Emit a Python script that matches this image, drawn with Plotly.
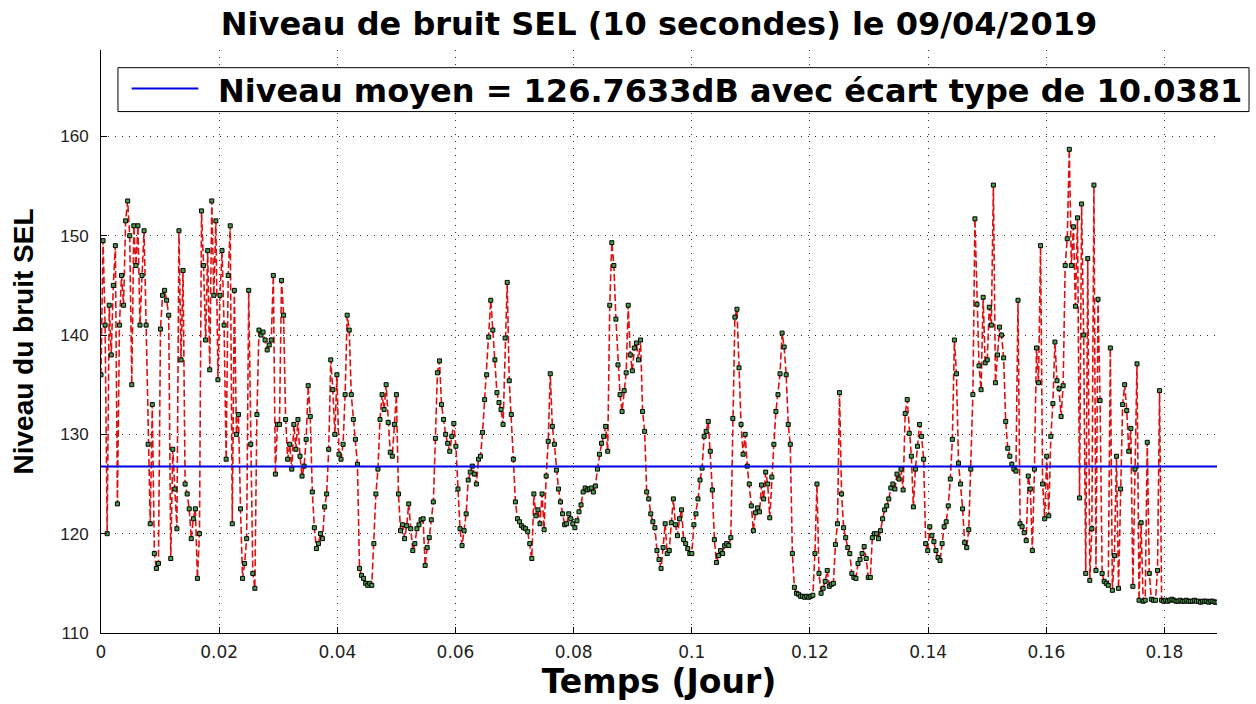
import numpy as np
import plotly.graph_objects as go

# Sound exposure level readings (dB), one every 30 s, grouped by 0.01-day slices
SAMPLE_STEP_S = 30
SECONDS_PER_DAY = 86400

sel_00 = [136, 149.5, 141, 120, 143, 138, 145, 149, 123, 141, 146, 143, 151.5, 153.5, 150,
          135, 151, 147, 151, 141, 146, 150.5, 141, 129, 121, 133, 118, 116.5, 117]
sel_01 = [140.6, 144, 144.5, 143.5, 142, 117.5, 128.5, 124.5, 120.5, 150.5, 137.5, 146.5, 125, 124,
          122.5, 119.5, 121.5, 122.5, 115.5, 120, 152.5, 147, 139.5, 148.5, 136.5, 153.5, 144, 151.5, 135.5]
sel_02 = [144, 148.5, 141, 127.5, 146, 151, 121, 144.5, 130, 132, 122.5, 115.5, 117, 119.5, 144.5,
          129, 116, 114.5, 132, 140.5, 140, 140.3, 139.5, 138.5, 139, 139.5, 146, 126, 131]
sel_03 = [131, 145.5, 142, 131.5, 127.5, 129, 126.5, 131, 128.5, 131.5, 127.8, 125.8, 126.8, 129.5, 134.9,
          131.8, 124.2, 120.6, 118.5, 119, 120, 119.5, 122.7, 124, 128.5, 137.5, 134.5, 130, 136]
sel_04 = [128, 127.5, 129, 134, 142, 140.5, 134, 131.5, 129.5, 127, 116.5, 115.8, 115.5, 115,
          114.8, 115, 114.8, 119, 124, 126.5, 131.5, 134, 132.5, 135, 131.2, 128.2, 127.8, 131]
sel_05 = [134, 124, 120.3, 120.9, 119.5, 120.8, 123, 120.5, 118.3, 119, 120.5, 120.9, 121.4, 121.5, 116.8,
          118.6, 119.6, 121.4, 123.2, 129.6, 136.2, 137.4, 133, 131.5, 130, 129.1, 128.3, 129.8, 131.1]
sel_06 = [128.8, 124.5, 120.5, 118.8, 120.3, 122, 125.4, 126.2, 126.8, 126, 125, 127.5, 127.8, 130.2, 133.5,
          136, 139.8, 143.5, 140.5, 137.5, 134.2, 133.2, 132.5, 131, 139.7, 145.3, 135.4, 132, 127.5]
sel_07 = [123.2, 121.5, 121.2, 120.8, 120.6, 120.5, 120.2, 119, 117.5, 124, 121.8, 122.4, 121, 124, 120.4,
          125.8, 129.3, 136.1, 130.8, 129, 126.4, 124.5, 123.2, 122, 120.9, 121, 122, 121.5, 121]
sel_08 = [120.6, 121.3, 122.2, 122.9, 124.2, 124.6, 124.4, 124.5, 124.6, 124.2, 124.8, 126.5, 128, 129.1, 129.8,
          130.8, 128.3, 143, 149.3, 147, 141.6, 137, 134, 132.3, 134.4, 136.2, 143, 138, 136.4]
sel_09 = [138.7, 139.2, 137.5, 139.5, 132.3, 130.3, 124.2, 123.5, 122, 121.2, 120.6, 118.3, 117.4, 116.5,
          118.6, 121, 118, 118.3, 121.1, 123.5, 120.9, 119.8, 121.5, 122.4, 119.4, 119, 118.5, 118]
sel_10 = [118, 120.9, 122, 123.5, 125.4, 126.6, 129.8, 130.3, 131.3, 128.3, 124.4, 119.4, 117.1, 117.8, 118.3,
          118, 118.8, 119, 118.8, 119.6, 131.6, 141.8, 142.6, 136.7, 131, 128, 130, 126.8, 125]
sel_11 = [122.8, 120.3, 122.1, 122.6, 122.2, 124.9, 123.5, 126.2, 125, 121.6, 125.7, 129, 132.3, 134, 136.1,
          140.2, 138.8, 136, 131, 129, 118, 114.6, 114, 113.9, 113.7, 113.7, 113.6, 113.7, 113.6]
sel_12 = [113.7, 113.8, 118, 125, 116, 114, 114.5, 115.2, 116.3, 114.7, 114.9, 115, 118.9, 121, 134.2,
          124, 120.6, 119.6, 118.6, 118, 116, 115.6, 115.5, 117, 117.4, 118, 118.7, 117.5, 115.6]
sel_13 = [115.6, 119.6, 120, 120, 119.5, 120.3, 121.5, 122.4, 122.8, 123.5, 124.6, 125, 124.5, 126, 125.5,
          126.5, 124.4, 132.1, 133.5, 130.1, 127.8, 122.7, 126.5, 128.8, 131, 129.8, 127.5, 119, 118.3]
sel_14 = [120.7, 119.8, 119.2, 118.3, 117.6, 117.3, 119, 120.7, 121.2, 122.8, 125.5, 129.5, 139.5, 136.1,
          127.1, 125, 122.5, 119.1, 118.6, 120.4, 126.5, 134, 151.7, 143.1, 136.9, 134.5, 143.8, 137.2]
sel_15 = [137.5, 142.8, 141, 155.1, 135.2, 138, 140.8, 140, 137.7, 131.3, 128.6, 127.8, 127, 126.5, 126.3,
          143.5, 121, 120.7, 120.1, 119.3, 125.8, 124.5, 118.3, 126.5, 138.7, 135.2, 149, 125, 121.5]
sel_16 = [127.8, 121.8, 129.8, 133.1, 139.3, 135.4, 134.6, 131.8, 134.9, 147, 149.7, 158.7, 147, 150.9, 142.9,
          151.8, 123.6, 153.2, 140, 116, 147.7, 115.3, 120.5, 155.1, 116.3, 143.6, 133.4, 116, 115.2]
sel_17 = [115, 114.8, 138.7, 114.3, 117.8, 127.8, 114.5, 124.5, 133, 135, 132.4, 128.3, 130.6, 114.7, 126.5,
          137.1, 113.3, 121.1, 113.2, 113.3, 129.2, 116, 113.4, 113.3, 113.3, 116.3, 134.4, 113.3, 113.2]
sel_18 = [113.3, 113.2, 113.3, 113.4, 113.3, 113.2, 113.2, 113.3, 113.2, 113.2, 113.3, 113.2, 113.2,
          113.2, 113.3, 113.2, 113.2, 113.1, 113.2, 113.2, 113.2, 113.1, 113.2, 113.2, 113.1, 113.1]

sel_db = (sel_00 + sel_01 + sel_02 + sel_03 + sel_04 + sel_05 + sel_06 + sel_07 + sel_08 + sel_09
          + sel_10 + sel_11 + sel_12 + sel_13 + sel_14 + sel_15 + sel_16 + sel_17 + sel_18)

MEAN_DB = 126.7633
STD_DB = 10.0381

x_tick_vals = [0, 0.02, 0.04, 0.06, 0.08, 0.1, 0.12, 0.14, 0.16, 0.18]
x_tick_text = ["0", "0.02", "0.04", "0.06", "0.08", "0.1", "0.12", "0.14", "0.16", "0.18"]
y_tick_vals = [110, 120, 130, 140, 150, 160]
Y_TOP = 168.7

t_days = np.arange(len(sel_db)) * SAMPLE_STEP_S / SECONDS_PER_DAY
t_end = float(t_days[-1])

legend_label = f"Niveau moyen = {MEAN_DB:.4f}dB avec écart type de {STD_DB:.4f}"

fig = go.Figure()

fig.add_trace(go.Scatter(
    x=t_days, y=sel_db, mode="lines+markers",
    line=dict(color="#e01010", width=1.6, dash="7px,3px"),
    marker=dict(symbol="square", size=4, color="#4c9a4c",
                line=dict(color="black", width=1)),
    showlegend=False, hoverinfo="x+y",
))

fig.add_trace(go.Scatter(
    x=[0, t_end], y=[MEAN_DB, MEAN_DB], mode="lines",
    line=dict(color="#0000e0", width=2),
    name=legend_label, showlegend=False,
))

axis_common = dict(
    showline=True, linecolor="black", linewidth=1, mirror=False,
    ticks="inside", ticklen=6, tickcolor="black", tickwidth=1,
    showgrid=True, gridcolor="#333333", gridwidth=1, griddash="1px,6px",
    zeroline=False,
)

fig.update_layout(
    width=1256, height=704,
    margin=dict(l=101, r=39, t=50, b=60),
    paper_bgcolor="white", plot_bgcolor="white",
    showlegend=False,
    title=dict(
        text="Niveau de bruit SEL (10 secondes) le 09/04/2019",
        x=0.5, xref="paper", xanchor="center",
        y=1 - 23.5 / 704, yref="container", yanchor="middle",
        font=dict(family="DejaVu Sans", size=32, color="black", weight="bold"),
    ),
    xaxis=dict(
        range=[0, t_end], tickvals=x_tick_vals, ticktext=x_tick_text,
        tickfont=dict(family="DejaVu Sans", size=17, color="#222222"),
        ticklabelstandoff=4,
        title=dict(text="Temps (Jour)", standoff=6,
                   font=dict(family="DejaVu Sans", size=33, color="black", weight="bold")),
        **axis_common,
    ),
    yaxis=dict(
        range=[110, Y_TOP], tickvals=y_tick_vals,
        tickfont=dict(family="Liberation Sans", size=17, color="#222222"),
        ticklabelstandoff=8,
        title=dict(text="Niveau du bruit SEL", standoff=18,
                   font=dict(family="Liberation Sans", size=28, color="black", weight="bold")),
        **axis_common,
    ),
)

# Legend box drawn over the top of the axes
fig.add_shape(type="rect", xref="paper", yref="paper",
              x0=0.0152, x1=1.0287, y0=0.8944, y1=0.9697,
              line=dict(color="black", width=1), fillcolor="white", layer="above")
fig.add_shape(type="line", xref="paper", yref="paper",
              x0=0.0275, x1=0.0872, y0=0.9338, y1=0.9338,
              line=dict(color="#0000e0", width=2), layer="above")
fig.add_annotation(xref="paper", yref="paper", x=0.1030, y=0.9298,
                   xanchor="left", yanchor="middle", showarrow=False,
                   text=legend_label,
                   font=dict(family="DejaVu Sans", size=32, color="black", weight="bold"))

fig.write_html("out.html")
